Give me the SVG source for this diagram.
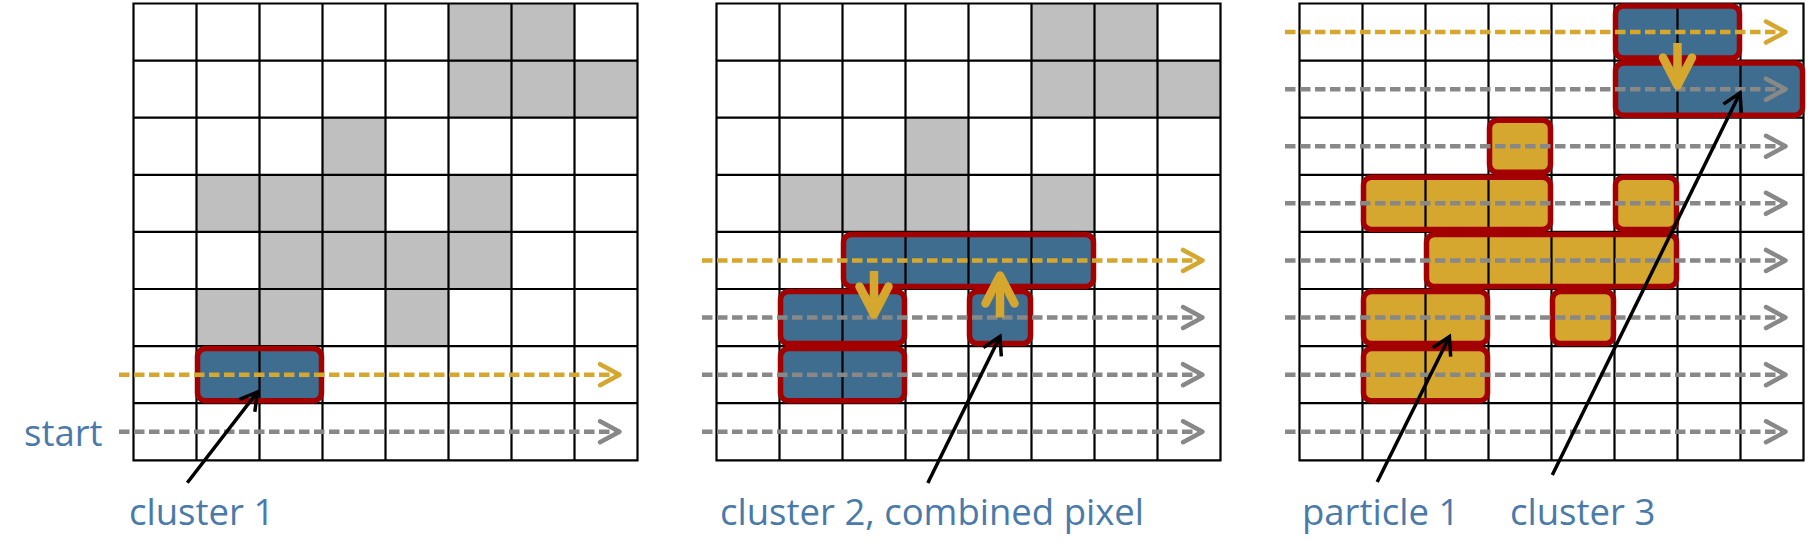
<svg xmlns="http://www.w3.org/2000/svg" xmlns:xlink="http://www.w3.org/1999/xlink" width="1811" height="558" viewBox="0 0 1811 558">
<style>
.px{fill:#bfbfbf}
.grid{stroke:#000;stroke-width:2.2;fill:none;stroke-linecap:square}
.dv{stroke:#000;stroke-width:2.2;fill:none}
.cb{fill:#3e6d8f}
.cy{fill:#d5a72f}
.ol{fill:none;stroke:#a30000;stroke-width:5.5}
.dy{stroke:#d5a72f;stroke-width:4.5;stroke-dasharray:10.5 4.5;fill:none;marker-end:url(#hy)}
.dg{stroke:#888;stroke-width:4.5;stroke-dasharray:10.5 4.5;fill:none;marker-end:url(#hg)}
.mh{stroke:#d5a72f;stroke-width:8.5;fill:none;stroke-linecap:round;stroke-linejoin:round}
.ms{stroke:#d5a72f;stroke-width:8.5;fill:none}
.ptr{stroke:#000;stroke-width:3.5;fill:none;marker-end:url(#ha)}
.lbl{font-family:"Open Sans","Liberation Sans",sans-serif;font-size:36.5px;fill:#4a7aaa}
</style>
<defs>
<marker id="hy" markerUnits="userSpaceOnUse" viewBox="-26 -16 30 32" markerWidth="30" markerHeight="32" refX="0" refY="0" orient="auto" overflow="visible">
<path d="M-19.5,-10.5L0,0L-19.5,10.5" fill="none" stroke="#d5a72f" stroke-width="4.5" stroke-linecap="round" stroke-linejoin="round"/>
</marker>
<marker id="hg" markerUnits="userSpaceOnUse" viewBox="-26 -16 30 32" markerWidth="30" markerHeight="32" refX="0" refY="0" orient="auto" overflow="visible">
<path d="M-19.5,-10.5L0,0L-19.5,10.5" fill="none" stroke="#888" stroke-width="4.5" stroke-linecap="round" stroke-linejoin="round"/>
</marker>
<marker id="ha" markerUnits="userSpaceOnUse" viewBox="-24 -14 28 28" markerWidth="28" markerHeight="28" refX="0" refY="0" orient="auto" overflow="visible">
<path d="M-17.3,-10L0,0L-17.3,10" fill="none" stroke="#000" stroke-width="3.5" stroke-linecap="butt" stroke-linejoin="miter"/>
</marker>
<path id="g8" class="grid" d="M0 0H504M0 57.1H504M0 114.2H504M0 171.3H504M0 228.4H504M0 285.5H504M0 342.6H504M0 399.7H504M0 456.8H504M0 0V456.8M63 0V456.8M126 0V456.8M189 0V456.8M252 0V456.8M315 0V456.8M378 0V456.8M441 0V456.8M504 0V456.8"/>
<path id="gtop" class="px" d="M315 0h126v57.1h-126zM315 57.1h189v57.1h-189zM189 114.2h63v57.1h-63zM63 171.3h189v57.1h-189zM315 171.3h63v57.1h-63z"/>
</defs>
<rect width="1811" height="558" fill="#fff"/>

<g id="panel1" transform="translate(133.5,3.5)">
<use xlink:href="#gtop" href="#gtop"/>
<path class="px" d="M126 228.4h252v57.1h-252zM63 285.5h126v57.1h-126zM252 285.5h63v57.1h-63z"/>
<use xlink:href="#g8" href="#g8"/>
<g id="p1-cluster1">
<rect class="cb" x="64" y="345.1" width="124" height="52.1" rx="8"/>
<path class="dv" d="M126 342.6V399.7"/>
<rect class="ol" x="64" y="345.1" width="124" height="52.1" rx="8"/>
</g>
<g id="p1-scan">
<path class="dy" d="M-14.5 371.15H486"/>
<path class="dg" d="M-14.5 428.25H486"/>
</g>
</g>

<g id="panel2" transform="translate(716.5,3.5)">
<use xlink:href="#gtop" href="#gtop"/>
<use xlink:href="#g8" href="#g8"/>
<g id="p2-clusterA">
<rect class="cb" x="127" y="230.9" width="250" height="52.1" rx="8"/>
<path class="dv" d="M189 228.4V285.5M252 228.4V285.5M315 228.4V285.5"/>
<rect class="ol" x="127" y="230.9" width="250" height="52.1" rx="8"/>
</g>
<g id="p2-clusterB">
<rect class="cb" x="64" y="288" width="124" height="52.1" rx="8"/>
<path class="dv" d="M126 285.5V342.6"/>
<rect class="ol" x="64" y="288" width="124" height="52.1" rx="8"/>
</g>
<g id="p2-clusterC">
<rect class="cb" x="253" y="288" width="61" height="52.1" rx="8"/>
<rect class="ol" x="253" y="288" width="61" height="52.1" rx="8"/>
</g>
<g id="p2-clusterD">
<rect class="cb" x="64" y="345.1" width="124" height="52.1" rx="8"/>
<path class="dv" d="M126 342.6V399.7"/>
<rect class="ol" x="64" y="345.1" width="124" height="52.1" rx="8"/>
</g>
<g id="p2-scan">
<path class="dy" d="M-14.5 256.95H486"/>
<path class="dg" d="M-14.5 314.05H486"/>
<path class="dg" d="M-14.5 371.15H486"/>
<path class="dg" d="M-14.5 428.25H486"/>
</g>
<g id="p2-merge">
<path class="ms" d="M157.5 267.5V304"/>
<path class="mh" d="M143 283L157.5 311L172 283"/>
<path class="ms" d="M283.5 314V279"/>
<path class="mh" d="M269 300L283.5 272L298 300"/>
</g>
</g>

<g id="panel3" transform="translate(1299.5,3.5)">
<use xlink:href="#g8" href="#g8"/>
<g id="p3-blue0">
<rect class="cb" x="316" y="2.5" width="124" height="52.1" rx="8"/>
<path class="dv" d="M378 0V57.1"/>
<rect class="ol" x="316" y="2.5" width="124" height="52.1" rx="8"/>
</g>
<g id="p3-blue1">
<rect class="cb" x="316" y="59.6" width="187" height="52.1" rx="8"/>
<path class="dv" d="M378 57.1V114.2M441 57.1V114.2"/>
<rect class="ol" x="316" y="59.6" width="187" height="52.1" rx="8"/>
</g>
<g id="p3-y1">
<rect class="cy" x="190" y="116.7" width="61" height="52.1" rx="8"/>
<rect class="ol" x="190" y="116.7" width="61" height="52.1" rx="8"/>
</g>
<g id="p3-y2">
<rect class="cy" x="64" y="173.8" width="187" height="52.1" rx="8"/>
<path class="dv" d="M126 171.3V228.4M189 171.3V228.4"/>
<rect class="ol" x="64" y="173.8" width="187" height="52.1" rx="8"/>
</g>
<g id="p3-y3">
<rect class="cy" x="316" y="173.8" width="61" height="52.1" rx="8"/>
<rect class="ol" x="316" y="173.8" width="61" height="52.1" rx="8"/>
</g>
<g id="p3-y4">
<rect class="cy" x="127" y="230.9" width="250" height="52.1" rx="8"/>
<path class="dv" d="M189 228.4V285.5M252 228.4V285.5M315 228.4V285.5"/>
<rect class="ol" x="127" y="230.9" width="250" height="52.1" rx="8"/>
</g>
<g id="p3-y5">
<rect class="cy" x="64" y="288" width="124" height="52.1" rx="8"/>
<path class="dv" d="M126 285.5V342.6"/>
<rect class="ol" x="64" y="288" width="124" height="52.1" rx="8"/>
</g>
<g id="p3-y6">
<rect class="cy" x="253" y="288" width="61" height="52.1" rx="8"/>
<rect class="ol" x="253" y="288" width="61" height="52.1" rx="8"/>
</g>
<g id="p3-y7">
<rect class="cy" x="64" y="345.1" width="124" height="52.1" rx="8"/>
<path class="dv" d="M126 342.6V399.7"/>
<rect class="ol" x="64" y="345.1" width="124" height="52.1" rx="8"/>
</g>
<g id="p3-scan">
<path class="dy" d="M-14.5 28.55H486"/>
<path class="dg" d="M-14.5 85.65H486"/>
<path class="dg" d="M-14.5 142.75H486"/>
<path class="dg" d="M-14.5 199.85H486"/>
<path class="dg" d="M-14.5 256.95H486"/>
<path class="dg" d="M-14.5 314.05H486"/>
<path class="dg" d="M-14.5 371.15H486"/>
<path class="dg" d="M-14.5 428.25H486"/>
</g>
<g id="p3-merge">
<path class="ms" d="M378 39.5V75"/>
<path class="mh" d="M363.5 54L378 82L392.5 54"/>
</g>
</g>

<g id="connectors">
<path class="ptr" d="M187.3 482.7L257.5 392"/>
<path class="ptr" d="M927.8 483L1000 336.5"/>
<path class="ptr" d="M1377.2 482L1449.4 336.7"/>
<path class="ptr" d="M1552.3 475L1740 93"/>
</g>

<g id="labels">
<text class="lbl" x="24" y="445.7">start</text>
<text class="lbl" x="129" y="525">cluster 1</text>
<text class="lbl" x="720" y="524.5">cluster 2, combined pixel</text>
<text class="lbl" x="1302" y="524.5">particle 1</text>
<text class="lbl" x="1510" y="524.5">cluster 3</text>
</g>
</svg>
